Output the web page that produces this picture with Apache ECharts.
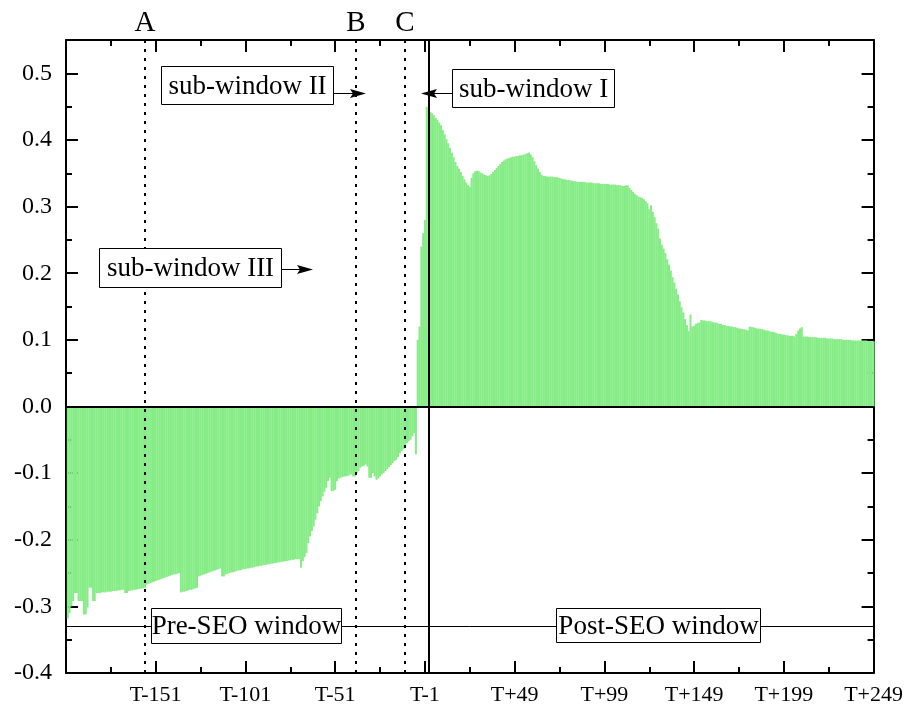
<!DOCTYPE html>
<html>
<head>
<meta charset="utf-8">
<script src="https://cdn.jsdelivr.net/npm/echarts@6/dist/echarts.min.js"></script>
<style>
  html, body { margin: 0; padding: 0; background: #fff; }
  #main { width: 906px; height: 706px; }
</style>
</head>
<body>
<div id="main"></div>
<script>
/*########## data ##########*/
// pre-SEO window, T-200 .. T-6
var preValues = [
  -0.318, -0.310, -0.300, -0.292, -0.280, -0.280, -0.292, -0.292, -0.292, -0.312,
  -0.312, -0.302, -0.272, -0.272, -0.292, -0.292, -0.280, -0.280, -0.280, -0.279,
  -0.279, -0.279, -0.278, -0.278, -0.278, -0.277, -0.277, -0.277, -0.276, -0.276,
  -0.275, -0.275, -0.280, -0.280, -0.277, -0.276, -0.276, -0.275, -0.275, -0.274,
  -0.274, -0.273, -0.273, -0.272, -0.267, -0.266, -0.265, -0.264, -0.263, -0.262,
  -0.261, -0.260, -0.259, -0.258, -0.257, -0.256, -0.255, -0.254, -0.253, -0.252,
  -0.252, -0.251, -0.250, -0.279, -0.278, -0.278, -0.277, -0.276, -0.275, -0.275,
  -0.274, -0.273, -0.272, -0.255, -0.254, -0.253, -0.252, -0.251, -0.250, -0.249,
  -0.248, -0.247, -0.246, -0.245, -0.244, -0.243, -0.255, -0.255, -0.252, -0.251,
  -0.250, -0.249, -0.249, -0.248, -0.247, -0.246, -0.246, -0.245, -0.244, -0.244,
  -0.243, -0.243, -0.242, -0.242, -0.241, -0.240, -0.240, -0.239, -0.239, -0.238,
  -0.238, -0.237, -0.237, -0.236, -0.236, -0.235, -0.235, -0.234, -0.234, -0.233,
  -0.233, -0.232, -0.232, -0.231, -0.231, -0.230, -0.230, -0.229, -0.229, -0.229,
  -0.242, -0.232, -0.226, -0.220, -0.205, -0.195, -0.187, -0.180, -0.170, -0.160,
  -0.150, -0.142, -0.135, -0.128, -0.122, -0.112, -0.107, -0.127, -0.127, -0.125,
  -0.112, -0.108, -0.107, -0.106, -0.105, -0.105, -0.104, -0.103, -0.102, -0.105,
  -0.105, -0.100, -0.097, -0.092, -0.090, -0.089, -0.087, -0.090, -0.107, -0.107,
  -0.100, -0.105, -0.110, -0.108, -0.105, -0.102, -0.100, -0.097, -0.094, -0.091,
  -0.088, -0.085, -0.082, -0.080, -0.076, -0.070, -0.067, -0.064, -0.060, -0.055,
  -0.052, -0.050, -0.045, -0.040, -0.072
];
// post-SEO window, T-5 .. T+249
var postValues = [
  0.100, 0.120, 0.240, 0.260, 0.280, 0.450, 0.446, 0.442, 0.440, 0.437,
  0.433, 0.430, 0.426, 0.422, 0.415, 0.408, 0.401, 0.395, 0.388, 0.381,
  0.374, 0.367, 0.361, 0.357, 0.352, 0.346, 0.341, 0.336, 0.332, 0.330,
  0.343, 0.350, 0.353, 0.354, 0.353, 0.351, 0.350, 0.348, 0.347, 0.346,
  0.347, 0.349, 0.352, 0.355, 0.358, 0.361, 0.364, 0.367, 0.369, 0.371,
  0.372, 0.373, 0.374, 0.375, 0.375, 0.376, 0.376, 0.377, 0.377, 0.378,
  0.379, 0.380, 0.381, 0.378, 0.374, 0.368, 0.362, 0.357, 0.352, 0.348,
  0.346, 0.346, 0.345, 0.345, 0.345, 0.345, 0.344, 0.344, 0.344, 0.343,
  0.342, 0.341, 0.341, 0.340, 0.340, 0.339, 0.339, 0.338, 0.338, 0.337,
  0.337, 0.337, 0.337, 0.337, 0.336, 0.336, 0.336, 0.336, 0.335, 0.335,
  0.335, 0.335, 0.334, 0.334, 0.334, 0.334, 0.334, 0.333, 0.333, 0.333,
  0.333, 0.332, 0.332, 0.332, 0.331, 0.331, 0.332, 0.332, 0.328, 0.325,
  0.322, 0.319, 0.317, 0.315, 0.314, 0.313, 0.311, 0.308, 0.305, 0.296,
  0.302, 0.292, 0.284, 0.275, 0.267, 0.252, 0.243, 0.237, 0.230, 0.221,
  0.213, 0.204, 0.194, 0.186, 0.177, 0.168, 0.158, 0.149, 0.141, 0.131,
  0.122, 0.113, 0.138, 0.120, 0.121, 0.124, 0.125, 0.126, 0.130, 0.129,
  0.129, 0.128, 0.128, 0.128, 0.127, 0.126, 0.126, 0.125, 0.124, 0.124,
  0.122, 0.122, 0.121, 0.121, 0.120, 0.120, 0.119, 0.119, 0.118, 0.117,
  0.117, 0.116, 0.116, 0.115, 0.114, 0.120, 0.119, 0.119, 0.118, 0.117,
  0.117, 0.116, 0.116, 0.115, 0.114, 0.114, 0.113, 0.112, 0.112, 0.111,
  0.110, 0.109, 0.109, 0.108, 0.108, 0.107, 0.107, 0.106, 0.106, 0.106,
  0.105, 0.109, 0.114, 0.117, 0.119, 0.105, 0.105, 0.105, 0.104, 0.104,
  0.104, 0.104, 0.104, 0.103, 0.103, 0.103, 0.103, 0.103, 0.102, 0.102,
  0.102, 0.102, 0.101, 0.101, 0.101, 0.101, 0.101, 0.100, 0.100, 0.100,
  0.100, 0.100, 0.099, 0.099, 0.099, 0.099, 0.099, 0.099, 0.099, 0.099,
  0.099, 0.098, 0.098, 0.098, 0.098
];
// axis position = day + 1 (so T-1 sits on 0)
var preStart = -199;   // T-200
var postStart = -4;    // T-5
var windowMarks = [
  { name: "A", x: -156 },
  { name: "B", x: -38.4 },
  { name: "C", x: -11.1 }
];
var eventX = 2;        // solid line at the event day
var windowLineY = -0.33;

/*########## chart ##########*/
var barData = [];
preValues.forEach(function (v, i) { barData.push([preStart + i, v]); });
postValues.forEach(function (v, i) { barData.push([postStart + i, v]); });

var serif = '"Liberation Serif", "Times New Roman", serif';

function labelBox(x, y, w, h, text) {
  return [
    {
      type: "rect", z: 100,
      shape: { x: x, y: y, width: w, height: h },
      style: { fill: "#fff", stroke: "#000", lineWidth: 1 }
    },
    {
      type: "text", z: 101, x: x + w / 2, y: y + h / 2 + 1,
      style: { text: text, font: "27px " + serif, fill: "#000", align: "center", verticalAlign: "middle" }
    }
  ];
}

function arrow(x1, y, x2) {
  var dir = x2 > x1 ? 1 : -1;
  return [
    {
      type: "line", z: 100,
      shape: { x1: x1, y1: y, x2: x2 - dir * 12, y2: y },
      style: { stroke: "#000", lineWidth: 1 }
    },
    {
      type: "polygon", z: 100,
      shape: { points: [[x2, y], [x2 - dir * 16, y - 4.5], [x2 - dir * 13, y], [x2 - dir * 16, y + 4.5]] },
      style: { fill: "#000" }
    }
  ];
}

var graphics = []
  .concat(labelBox(161.5, 66.5, 172, 38, "sub-window II"))
  .concat(arrow(333.5, 93.5, 366))
  .concat(labelBox(452.5, 69.5, 162, 38, "sub-window I"))
  .concat(arrow(452.5, 93.5, 421))
  .concat(labelBox(99.5, 248.5, 182, 39, "sub-window III"))
  .concat(arrow(281.5, 269.5, 313))
  .concat(labelBox(151.5, 608.5, 190, 35, "Pre-SEO window"))
  .concat(labelBox(556.5, 608.5, 204, 34, "Post-SEO window"));

var tickStyle = { color: "#000", width: 2 };

function xLabel(v) {
  var d = v - 1;
  return d < 0 ? "T" + d : "T+" + d;
}
function yLabel(v) {
  if (Math.abs(v * 10 - Math.round(v * 10)) > 1e-6) return "";
  return v.toFixed(1);
}

var markLines = windowMarks.map(function (m) {
  return {
    xAxis: m.x,
    lineStyle: { type: [3, 6], width: 2, color: "#000" },
    label: { show: true, position: "end", formatter: m.name, distance: 2, fontSize: 29, fontFamily: serif, color: "#000" }
  };
});
markLines.push({ xAxis: eventX, lineStyle: { type: "solid", width: 2, color: "#000" }, label: { show: false } });
markLines.push({ yAxis: 0, lineStyle: { type: "solid", width: 2, color: "#000" }, label: { show: false } });
markLines.push({ yAxis: windowLineY, lineStyle: { type: "solid", width: 1, color: "#000" }, label: { show: false } });

var option = {
  animation: false,
  grid: { left: 66, right: 31, top: 40, bottom: 33 },
  xAxis: [
    {
      type: "value", min: -200, max: 250, interval: 50, position: "bottom",
      axisLine: { onZero: false, lineStyle: tickStyle },
      axisTick: { inside: true, length: 12, lineStyle: tickStyle },
      minorTick: { show: true, splitNumber: 2, length: 6, lineStyle: tickStyle },
      splitLine: { show: false },
      axisLabel: { formatter: xLabel, showMinLabel: false, margin: 11, fontSize: 22, fontFamily: serif, color: "#000" }
    },
    {
      type: "value", min: -200, max: 250, interval: 50, position: "top",
      axisLine: { onZero: false, lineStyle: tickStyle },
      axisTick: { inside: true, length: 12, lineStyle: tickStyle },
      minorTick: { show: true, splitNumber: 2, length: 6, lineStyle: tickStyle },
      splitLine: { show: false },
      axisLabel: { show: false }
    }
  ],
  yAxis: [
    {
      type: "value", min: -0.4, max: 0.55, interval: 0.1, position: "left",
      axisLine: { onZero: false, lineStyle: tickStyle },
      axisTick: { inside: true, length: 12, lineStyle: tickStyle },
      minorTick: { show: true, splitNumber: 2, length: 6, lineStyle: tickStyle },
      splitLine: { show: false },
      axisLabel: { formatter: yLabel, margin: 14, fontSize: 24, fontFamily: serif, color: "#000" }
    },
    {
      type: "value", min: -0.4, max: 0.55, interval: 0.1, position: "right",
      axisLine: { onZero: false, lineStyle: tickStyle },
      axisTick: { inside: true, length: 12, lineStyle: tickStyle },
      minorTick: { show: true, splitNumber: 2, length: 6, lineStyle: tickStyle },
      splitLine: { show: false },
      axisLabel: { show: false }
    }
  ],
  series: [
    {
      type: "bar",
      xAxisIndex: 0,
      yAxisIndex: 0,
      barWidth: 2,
      itemStyle: { color: "#86ec86" },
      data: barData,
      markLine: {
        silent: true,
        symbol: "none",
        animation: false,
        data: markLines
      }
    }
  ],
  graphic: graphics
};

var myChart = echarts.init(document.getElementById("main"));
myChart.setOption(option, true);
</script>
</body>
</html>
